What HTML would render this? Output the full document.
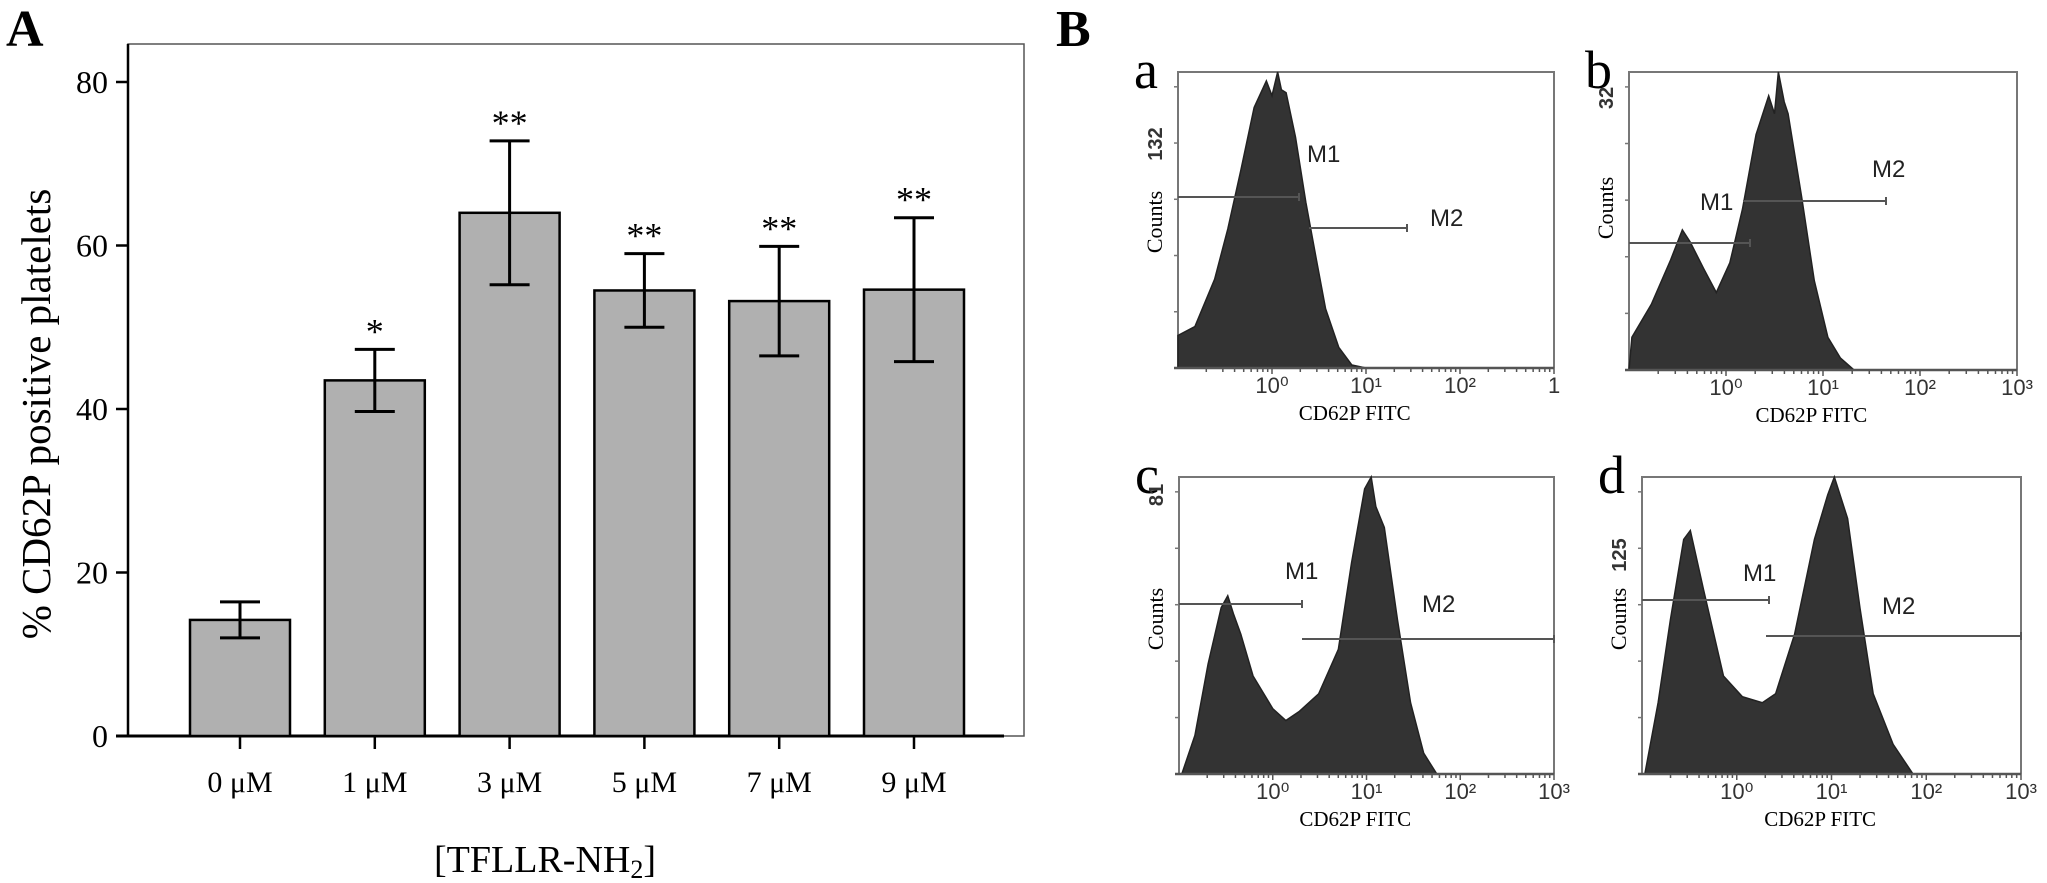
<!DOCTYPE html>
<html><head><meta charset="utf-8"><style>
html,body{margin:0;padding:0;background:#fff;}
svg{display:block;}
</style></head><body>
<svg id="fig" width="2047" height="883" viewBox="0 0 2047 883" xmlns="http://www.w3.org/2000/svg">
<g id="panelA"></g>
<g id="panelB"></g>
</svg>
<script>
// ---------- Panel A data ----------
const categories = ["0 μM","1 μM","3 μM","5 μM","7 μM","9 μM"];
const means = [14.2, 43.5, 64.0, 54.5, 53.2, 54.6];
const sds = [2.2, 3.8, 8.8, 4.5, 6.7, 8.8];
const stars = ["", "*", "**", "**", "**", "**"];
const yTicks = [0, 20, 40, 60, 80];

// ---------- Panel B data (log10 fluorescence position, relative count 0-100) ----------
const histA_x = [-1,-0.82,-0.61,-0.47,-0.33,-0.19,-0.06,0.0,0.06,0.1,0.15,0.25,0.36,0.47,0.57,0.71,0.85,1.0];
const histA_y = [11,14,30,47,67,88,97,92,100,94,93,78,56,37,20,7,1,0];
const histB_x = [-1,-0.97,-0.77,-0.57,-0.45,-0.37,-0.23,-0.1,0.04,0.17,0.31,0.44,0.5,0.54,0.6,0.64,0.78,0.91,1.05,1.18,1.32];
const histB_y = [0,11,22,37,47,43,34,26,36,54,79,92,86,100,90,86,58,30,11,4,0];
const histC_x = [-0.97,-0.83,-0.69,-0.55,-0.48,-0.42,-0.34,-0.21,0.0,0.14,0.28,0.49,0.70,0.84,0.98,1.05,1.1,1.19,1.33,1.47,1.61,1.75];
const histC_y = [0,13,37,56,60,54,47,33,22,18,21,27,42,71,96,100,90,83,52,24,7,0];
const histD_x = [-0.97,-0.83,-0.70,-0.56,-0.49,-0.35,-0.14,0.06,0.27,0.41,0.61,0.82,0.96,1.03,1.17,1.30,1.44,1.65,1.86];
const histD_y = [0,24,52,79,82,62,33,26,24,27,47,79,94,100,86,56,27,10,0];
const countLabels = ["132","32","81","125"];
const decadeLabels = ["10⁰","10¹","10²","10³"];

const NS = "http://www.w3.org/2000/svg";
function mk(parent, tag, attrs, text){
  const e = document.createElementNS(NS, tag);
  for (const k in attrs) e.setAttribute(k, attrs[k]);
  if (text !== undefined) e.textContent = text;
  parent.appendChild(e);
  return e;
}

// ---------- Panel A ----------
const A = document.getElementById('panelA');
const plotL = 128, plotR = 1024, plotT = 44, y0 = 736, y80 = 82;
const yScale = v => y0 - (v / 80) * (y0 - y80);
const xCenter = i => 240 + i * 134.8;
const barW = 100;

let t = mk(A,'text',{x:6,y:46,'font-family':'Liberation Serif, serif','font-size':52,'font-weight':'bold'},'A');
 

let frame = mk(A,'rect',{x:plotL,y:plotT,width:plotR-plotL,height:y0-plotT,fill:'none',stroke:'#555','stroke-width':1.5});
 
let yax = mk(A,'line',{x1:plotL,y1:plotT,x2:plotL,y2:y0,stroke:'#000','stroke-width':2.5});
 
let xax = mk(A,'line',{x1:plotL-12,y1:y0,x2:1004,y2:y0,stroke:'#000','stroke-width':3});
 

yTicks.forEach(v=>{
  const y = yScale(v);
  const tk = mk(A,'line',{x1:plotL-12,y1:y,x2:plotL,y2:y,stroke:'#000','stroke-width':2.5});
   
  const lb = mk(A,'text',{x:plotL-20,y:y+11,'text-anchor':'end','font-family':'Liberation Serif, serif','font-size':32},String(v));
   
});

categories.forEach((c,i)=>{
  const cx = xCenter(i);
  const top = yScale(means[i]);
  const bar = mk(A,'rect',{x:cx-barW/2,y:top,width:barW,height:y0-top,fill:'#b0b0b0',stroke:'#000','stroke-width':2.5});
   
  const hi = yScale(means[i]+sds[i]), lo = yScale(means[i]-sds[i]);
  const eb = mk(A,'path',{d:`M${cx},${hi}V${lo}M${cx-20},${hi}H${cx+20}M${cx-20},${lo}H${cx+20}`,stroke:'#000','stroke-width':3,fill:'none'});
   
  if (stars[i]) {
    const st = mk(A,'text',{x:cx,y:hi-6,'text-anchor':'middle','font-family':'Liberation Serif, serif','font-size':36},stars[i]);
     
  }
  const xt = mk(A,'line',{x1:cx,y1:y0,x2:cx,y2:y0+13,stroke:'#000','stroke-width':2.5});
   
  const xl = mk(A,'text',{x:cx,y:792,'text-anchor':'middle','font-family':'Liberation Serif, serif','font-size':30},c);
   
});

let xt2 = mk(A,'text',{x:545,y:872,'text-anchor':'middle','font-family':'Liberation Serif, serif','font-size':38});
 
xt2.appendChild(document.createTextNode('[TFLLR-NH'));
const sub = mk(xt2,'tspan',{'font-size':26,dy:6},'2');
const sub2 = mk(xt2,'tspan',{dy:-6},']');

let yt = mk(A,'text',{x:0,y:0,transform:'translate(50,414) rotate(-90)','text-anchor':'middle','font-family':'Liberation Serif, serif','font-size':41},'% CD62P positive platelets');
 

// ---------- Panel B ----------
const B = document.getElementById('panelB');
let tb = mk(B,'text',{x:1056,y:46,'font-family':'Liberation Serif, serif','font-size':52,'font-weight':'bold'},'B');
 

const panels = [
  {id:'a', L:1178, R:1554, T:72, Bt:368, hx:histA_x, hy:histA_y, m1:{y:197,x1:1178,x2:1299,lx:1307,ly:162}, m2:{y:228,x1:1309,x2:1407,lx:1430,ly:226}, cl:countLabels[0], clY:144, cutLast:true},
  {id:'b', L:1629, R:2017, T:72, Bt:370, hx:histB_x, hy:histB_y, m1:{y:243,x1:1629,x2:1750,lx:1700,ly:210}, m2:{y:201,x1:1743,x2:1886,lx:1872,ly:177}, cl:countLabels[1], clY:98},
  {id:'c', L:1179, R:1554, T:477, Bt:774, hx:histC_x, hy:histC_y, m1:{y:604,x1:1179,x2:1302,lx:1285,ly:579}, m2:{y:639,x1:1302,x2:1554,lx:1422,ly:612}, cl:countLabels[2], clY:495},
  {id:'d', L:1642, R:2021, T:477, Bt:774, hx:histD_x, hy:histD_y, m1:{y:600,x1:1642,x2:1769,lx:1743,ly:581}, m2:{y:636,x1:1766,x2:2021,lx:1882,ly:614}, cl:countLabels[3], clY:555}
];

panels.forEach(p=>{
  const g = mk(B,'g',{});
   
  const W = p.R - p.L, H = p.Bt - p.T;
  const xs = v => p.L + (v + 1) / 4 * W;
  const ys = v => p.Bt - v / 100 * H;
  // letter
  const lt = mk(g,'text',{x:p.L-44,y:p.T+16,'font-family':'Liberation Serif, serif','font-size':54},p.id);
   
  // frame
  const fr = mk(g,'path',{d:`M${p.L},${p.Bt}V${p.T}H${p.R}V${p.Bt}`,fill:'none',stroke:'#777','stroke-width':2});
   
  // histogram fill
  let d = `M${xs(p.hx[0])},${p.Bt}`;
  p.hx.forEach((v,k)=>{ d += `L${xs(v)},${ys(p.hy[k])}`; });
  d += `L${xs(p.hx[p.hx.length-1])},${p.Bt}Z`;
  const hp = mk(g,'path',{d:d,fill:'#333',stroke:'#222','stroke-width':1.5});
   
  // bottom axis
  const ax = mk(g,'line',{x1:p.L-4,y1:p.Bt,x2:p.R,y2:p.Bt,stroke:'#555','stroke-width':2.5});
   
  for (let dec=-1; dec<3; dec++){
    for (let m=2; m<=10; m++){
      const xv = xs(dec + Math.log10(m));
      const tk = mk(g,'line',{x1:xv,y1:p.Bt,x2:xv,y2:p.Bt+(m===10?6:4),stroke:'#555','stroke-width':1.5});
       
    }
  }
  decadeLabels.forEach((lab,k)=>{
    if (p.cutLast && k===3) {
      const c = mk(g,'text',{x:xs(k)-6,y:p.Bt+25,'font-family':'Liberation Sans, sans-serif','font-size':22,fill:'#333'},'1');
       
      return;
    }
    const tl = mk(g,'text',{x:xs(k),y:p.Bt+25,'text-anchor':'middle','font-family':'Liberation Sans, sans-serif','font-size':22,fill:'#333'},lab);
     
  });
  const xtit = mk(g,'text',{x:p.L+W*0.47,y:p.Bt+52,'text-anchor':'middle','font-family':'Liberation Serif, serif','font-size':21},'CD62P  FITC');
   
  // y minor ticks
  for (let k=1;k<=5;k++){
    const yv = p.Bt - k*H*0.19;
    const yk = mk(g,'line',{x1:p.L-4,y1:yv,x2:p.L,y2:yv,stroke:'#777','stroke-width':1.5});
     
  }
  const cnt = mk(g,'text',{x:0,y:0,transform:`translate(${p.L-16},${p.clY}) rotate(-90)`,'text-anchor':'middle','font-family':'Liberation Sans, sans-serif','font-size':20,'font-weight':'bold',fill:'#333'},p.cl);
   
  const ct = mk(g,'text',{x:0,y:0,transform:`translate(${p.L-16},${p.id==='a'?222:(p.id==='b'?208:619)}) rotate(-90)`,'text-anchor':'middle','font-family':'Liberation Serif, serif','font-size':22},'Counts');
   
  // markers
  [['M1',p.m1],['M2',p.m2]].forEach(([nm,m])=>{
    const ml = mk(g,'path',{d:`M${m.x1},${m.y}H${m.x2}M${m.x2},${m.y-4}V${m.y+4}`,stroke:'#555','stroke-width':2,fill:'none'});
     
    const mt = mk(g,'text',{x:m.lx,y:m.ly,'font-family':'Liberation Sans, sans-serif','font-size':24,fill:'#222'},nm);
     
  });
});
</script>
</body></html>
